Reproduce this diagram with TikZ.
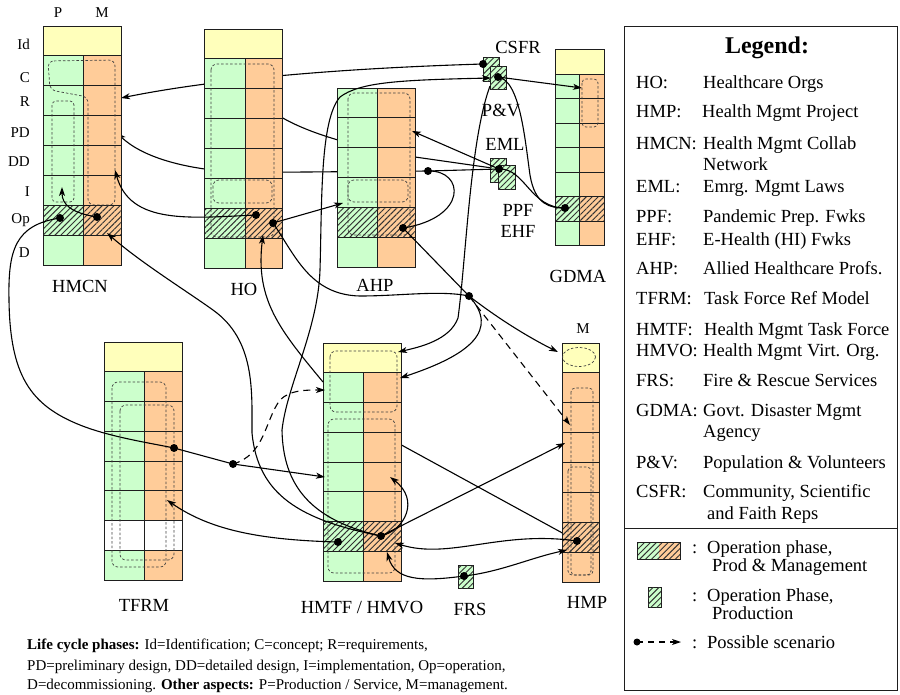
\documentclass[tikz,border=0pt]{standalone}
\usepackage{fontspec}
\setmainfont{Liberation Serif}
\usetikzlibrary{arrows.meta,patterns.meta}
\definecolor{pc}{RGB}{204,255,204}
\definecolor{mc}{RGB}{255,204,153}
\definecolor{idc}{RGB}{255,255,187}
\definecolor{hatchc}{RGB}{50,50,50}
\definecolor{edgec}{RGB}{30,30,30}
\tikzset{
  gridl/.style={draw=edgec,line width=1pt},
  hatch/.style={pattern={Lines[angle=45,distance=4.2pt,line width=0.95pt]},pattern color=hatchc},
  dbox/.style={draw=black!75,dash pattern=on 2.5pt off 2pt,line width=0.7pt,rounded corners=6pt},
  conn/.style={line width=1.1pt,draw=black},
  arr/.style={conn,-{Stealth[length=9pt,width=6pt,inset=2.5pt]}},
  darr/.style={arr,dash pattern=on 7pt off 5pt},
  sqbox/.style={draw=edgec,line width=0.8pt,fill=pc,postaction={hatch}},
  big/.style={font=\fontsize{18.5}{21}\selectfont,inner sep=0pt,anchor=base},
  small/.style={font=\fontsize{15}{17}\selectfont,inner sep=0pt,anchor=base},
  rowl/.style={font=\fontsize{15}{17}\selectfont,inner sep=0pt,anchor=base east},
  lgk/.style={font=\fontsize{18.5}{21}\selectfont,inner sep=0pt,anchor=base west},
  btxt/.style={font=\fontsize{15}{17}\selectfont,inner sep=0pt,anchor=base west},
}
% #1 xL, #2 xM, #3 xR, #4 top, #5 row height  (8 rows: Id, C, R, PD, DD, I, Op, D)
\newcommand\lcTwo[5]{%
  \fill[idc] (#1,#4) rectangle (#3,#4+#5);
  \fill[pc] (#1,#4+#5) rectangle (#2,#4+8*#5);
  \fill[mc] (#2,#4+#5) rectangle (#3,#4+8*#5);
  \fill[hatch] (#1,#4+6*#5) rectangle (#3,#4+7*#5);
  \foreach \k in {1,...,7} {\draw[gridl] (#1,#4+\k*#5) -- (#3,#4+\k*#5);}
  \draw[gridl] (#2,#4+#5) -- (#2,#4+8*#5);
  \draw[gridl] (#1,#4) rectangle (#3,#4+8*#5);
}
\begin{document}
\begin{tikzpicture}[x=1pt,y=-1pt]
\useasboundingbox (0,0) rectangle (900,694);
\fill[white] (0,0) rectangle (900,694);

% ---------- named points ----------
\coordinate (hmcnPd) at (60,218);
\coordinate (hmcnMd) at (97,217);
\coordinate (hoD1) at (256,215);
\coordinate (hoD2) at (273,223);
\coordinate (ahpD) at (403,228);
\coordinate (emlJ) at (428,171);
\coordinate (csfrD) at (483,64);
\coordinate (pvD) at (498,77);
\coordinate (emlD) at (499,169);
\coordinate (gdmaD) at (565,208);
\coordinate (junc) at (469,296);
\coordinate (tfrmD) at (174,448);
\coordinate (juncB) at (233,464);
\coordinate (hmtfP) at (338,542);
\coordinate (hmtfM) at (381,536);
\coordinate (hmpD) at (577,541);
\coordinate (frsD) at (464,576);

\coordinate (hmcnR) at (121,98);
\coordinate (hmcnPD) at (117,133);
\coordinate (hmcnI) at (115,170);
\coordinate (hmcnOp) at (107,233);
\coordinate (hmcnPI) at (62,187);
\coordinate (hoR) at (273,112);
\coordinate (hoOp) at (263,235);
\coordinate (ahpR) at (412,131);
\coordinate (ahpDD) at (343,203);
\coordinate (pvA) at (491,78);
\coordinate (pvS) at (490,86);
\coordinate (gdmaA) at (582,88);
\coordinate (hmtfId) at (398,352);
\coordinate (hmtfC) at (400,378);
\coordinate (hmtfCL) at (325,390);
\coordinate (hmtfCLe) at (323,382);
\coordinate (hmtfDDL) at (325,477);
\coordinate (hmtfDD) at (390,477);
\coordinate (hmtfOpR) at (395,543);
\coordinate (hmtfD) at (387,552);
\coordinate (hmtfRe) at (385,436);
\coordinate (tfrmA) at (167,500);
\coordinate (hmpId) at (558,352);
\coordinate (hmpR) at (570,425);
\coordinate (hmpPD) at (565,443);
\coordinate (hmpOp) at (567,550);

% ---------- connectors running behind the boxes ----------
\draw[arr] (csfrD) .. controls (350,68) and (220,78) .. (hmcnR);
\draw[arr] (emlJ) -- (245,172.5) .. controls (180,170) and (140,155) .. (hmcnPD);
\draw[arr] (emlD) -- (415,157) .. controls (350,146) and (305,132) .. (hoR);
\draw[conn] (hmpD) -- (hmtfRe);

% ---------- life-cycle boxes ----------
% HMCN
\lcTwo{43}{83}{121}{26}{29.875}
\draw[dbox] (48,61) -- (115,60) -- (115,205) -- (88,205) -- (88,97) -- (50,90) -- cycle;
\draw[dbox,rounded corners=4pt] (52,101) rectangle (74,202);
% HO
\lcTwo{204}{245}{282}{29}{29.875}
\draw[dbox] (211,64) rectangle (274,237);
\draw[dbox] (213,180) rectangle (272,203);
% AHP (6 rows)
\fill[pc] (337,88) rectangle (377,267.4);
\fill[mc] (377,88) rectangle (415,267.4);
\fill[hatch] (337,207.6) rectangle (415,237.5);
\foreach \yy in {117.9,147.8,177.7,207.6,237.5} {\draw[gridl] (337,\yy) -- (415,\yy);}
\draw[gridl] (377,88) -- (377,267.4);
\draw[gridl] (337,88) rectangle (415,267.4);
\draw[dbox] (348,93) rectangle (410,235);
\draw[dbox] (348,180) rectangle (408,202);
% GDMA
\lcTwo{555}{579}{604}{49.5}{24.5}
\draw[dbox,rounded corners=4pt] (582,79) rectangle (598,127);
% TFRM
\lcTwo{104}{144}{182}{342}{29.75}
\fill[white] (104,520.5) rectangle (182,550.25);
\draw[gridl] (104,520.5) -- (182,520.5);
\draw[gridl] (104,550.25) -- (182,550.25);
\draw[gridl] (144,520.5) -- (144,550.25);
\draw[gridl] (104,342) rectangle (182,580);
\draw[dbox] (112,382) rectangle (166,567);
\draw[dbox] (120,405) rectangle (174,560);
% HMTF / HMVO
\lcTwo{323}{363}{401}{343}{29.75}
\draw[dbox] (330,351) rectangle (397,412);
\draw[dbox] (328,419) rectangle (395,573);
% HMP (management column only)
\fill[idc] (562,343) rectangle (599,372.9);
\fill[mc] (562,372.9) rectangle (599,582);
\fill[hatch] (562,522.25) rectangle (599,552.1);
\foreach \yy in {372.9,402.75,432.6,462.5,492.4,522.25,552.1} {\draw[gridl] (562,\yy) -- (599,\yy);}
\draw[gridl] (562,343) rectangle (599,582);
\draw[black!75,dash pattern=on 2.5pt off 2pt,line width=0.7pt] (579,357) ellipse [x radius=16.5, y radius=9.5];
\draw[dbox,rounded corners=4pt] (571,388) rectangle (593,575);
\draw[dbox,rounded corners=4pt] (568,467) rectangle (591,575);

% small operation-phase squares
\path[sqbox] (483,57) rectangle (499,81);
\path[sqbox] (490,66) rectangle (506,89);
\path[sqbox] (490,158) rectangle (506,182);
\path[sqbox] (498,165) rectangle (515,189);
\path[sqbox] (458,565) rectangle (473,588);

% ---------- connectors in front ----------
\draw[arr] (hmcnMd) .. controls (72,213) and (62,205) .. (hmcnPI);
\draw[conn] (hmcnPd) .. controls (15,225) and (8,250) .. (9,300) .. controls (10,375) and (30,405) .. (80,425) .. controls (110,437) and (150,443) .. (tfrmD);
\draw[conn] (tfrmD) -- (juncB);
\draw[arr] (juncB) -- (hmtfDDL);
\draw[darr] (juncB) .. controls (265,455) and (265,420) .. (280,400) .. controls (290,390) and (305,390) .. (hmtfCL);
\draw[arr] (hmtfP) .. controls (260,540) and (210,530) .. (tfrmA);
\draw[arr] (hoD1) .. controls (190,218) and (130,225) .. (hmcnI);
\draw[arr] (hoD2) -- (ahpDD);
\draw[conn] (hoD2) .. controls (295,255) and (310,295) .. (360,296) .. controls (400,296) and (440,290) .. (junc);
\draw[conn] (ahpD) -- (junc);
\draw[conn] (emlD) -- (emlJ);
\draw[conn] (emlJ) .. controls (465,170) and (468,218) .. (ahpD);
\draw[arr] (emlD) -- (ahpR);
\draw[arr] (pvD) -- (gdmaA);
\draw[conn] (pvD) .. controls (520,80) and (525,140) .. (530,175) .. controls (535,205) and (550,208) .. (gdmaD);
\draw[conn] (emlD) .. controls (525,168) and (530,208) .. (gdmaD);
\draw[arr] (hmtfM) .. controls (310,520) and (283,485) .. (282,430) .. controls (287,385) and (318,330) .. (320,270) .. controls (322,200) and (320,120) .. (340,97) .. controls (360,82) and (400,80) .. (pvA);
\draw[arr] (hmtfM) .. controls (300,520) and (258,495) .. (252,433) .. controls (252,390) and (255,340) .. (213,310) .. controls (185,290) and (140,262) .. (hmcnOp);
\draw[arr] (hmtfCLe) .. controls (280,330) and (255,300) .. (hoOp);
\draw[arr] (hmtfM) .. controls (405,530) and (420,500) .. (hmtfDD);
\draw[arr] (hmtfM) -- (hmpPD);
\draw[arr] (hmpD) .. controls (500,530) and (450,560) .. (hmtfOpR);
\draw[arr] (frsD) .. controls (420,582) and (395,580) .. (hmtfD);
\draw[arr] (frsD) .. controls (500,572) and (530,558) .. (hmpOp);
\draw[arr] (junc) .. controls (500,320) and (530,338) .. (hmpId);
\draw[darr] (junc) -- (hmpR);
\draw[arr] (junc) .. controls (500,330) and (470,355) .. (hmtfC);
\draw[arr] (pvS) .. controls (470,140) and (466,260) .. (458,318) .. controls (450,340) and (420,347) .. (hmtfId);

% dots
\foreach \d in {hmcnPd,hmcnMd,hoD1,hoD2,ahpD,emlJ,csfrD,pvD,emlD,gdmaD,junc,tfrmD,juncB,hmtfP,hmtfM,hmpD,frsD}
  {\fill (\d) circle (4pt);}

% ---------- labels ----------
\node[small] (lP) at (58,17) {P};
\node[small] (lM) at (102,17) {M};
\node[rowl] (rId) at (30,49) {Id};
\node[rowl] (rC) at (30,82) {C};
\node[rowl] (rR) at (30,106) {R};
\node[rowl] (rPD) at (30,137) {PD};
\node[rowl] (rDD) at (30,166) {DD};
\node[rowl] (rI) at (30,196) {I};
\node[rowl] (rOp) at (30,223) {Op};
\node[rowl] (rD) at (30,257) {D};

\node[big] (tHMCN) at (80,292) {HMCN};
\node[big] (tHO) at (244,295) {HO};
\node[big] (tAHP) at (375,291) {AHP};
\node[big] (tGDMA) at (578,282) {GDMA};
\node[big] (tTFRM) at (144,611) {TFRM};
\node[big] (tHMTF) at (362,613) {HMTF / HMVO};
\node[big] (tFRS) at (470,615) {FRS};
\node[big] (tHMP) at (587,608) {HMP};
\node[small] (tHMPM) at (583,333) {M};
\node[big] (tCSFR) at (518,53) {CSFR};
\node[big] (tPV) at (501,116) {P\&V};
\node[big] (tEML) at (505,150) {EML};
\node[big] (tPPF) at (518,216) {PPF};
\node[big] (tEHF) at (518,237) {EHF};

% ---------- legend ----------
\draw[line width=1pt,draw=edgec] (624,26) rectangle (897,690);
\draw[line width=1pt,draw=edgec] (624,528) -- (897,528);
\node[font=\fontsize{24}{26}\selectfont\bfseries,inner sep=0pt,anchor=base] (lgT) at (767,53) {Legend:};
\node[lgk] (k1) at (636,88) {HO:};     \node[lgk] (v1) at (703,88) {Healthcare Orgs};
\node[lgk] (k2) at (636,117) {HMP:};   \node[lgk] (v2) at (702,117) {Health Mgmt Project};
\node[lgk] (k3) at (636,149) {HMCN:};  \node[lgk] (v3) at (703,149) {Health Mgmt Collab};
\node[lgk] (v3b) at (703,170) {Network};
\node[lgk] (k4) at (636,192) {EML:};   \node[lgk] (v4) at (703,192) {Emrg. Mgmt Laws};
\node[lgk] (k5) at (636,222) {PPF:};   \node[lgk] (v5) at (703,222) {Pandemic Prep. Fwks};
\node[lgk] (k6) at (636,245) {EHF:};   \node[lgk] (v6) at (703,245) {E-Health (HI) Fwks};
\node[lgk] (k7) at (636,274) {AHP:};   \node[lgk] (v7) at (703,274) {Allied Healthcare Profs.};
\node[lgk] (k8) at (636,304) {TFRM:};  \node[lgk] (v8) at (704,304) {Task Force Ref Model};
\node[lgk] (k9) at (636,335) {HMTF:};  \node[lgk] (v9) at (704,335) {Health Mgmt Task Force};
\node[lgk] (k10) at (636,356) {HMVO:}; \node[lgk] (v10) at (703,356) {Health Mgmt Virt. Org.};
\node[lgk] (k11) at (636,386) {FRS:};  \node[lgk] (v11) at (703,386) {Fire \& Rescue Services};
\node[lgk] (k12) at (636,416) {GDMA:}; \node[lgk] (v12) at (703,416) {Govt. Disaster Mgmt};
\node[lgk] (v12b) at (703,437) {Agency};
\node[lgk] (k13) at (636,468) {P\&V:}; \node[lgk] (v13) at (703,468) {Population \& Volunteers};
\node[lgk] (k14) at (636,497) {CSFR:}; \node[lgk] (v14) at (703,497) {Community, Scientific};
\node[lgk] (v14b) at (707,519) {and Faith Reps};

\fill[pc] (637,542) rectangle (659,559);
\fill[mc] (659,542) rectangle (680,559);
\fill[hatch] (637,542) rectangle (680,559);
\draw[draw=edgec,line width=0.8pt] (637,542) rectangle (680,559);
\node[lgk] (c1) at (692,553) {:};
\node[lgk] (i1) at (707,553) {Operation phase,};
\node[lgk] (i1b) at (712,571) {Prod \& Management};
\path[sqbox] (648,587) rectangle (661,607);
\node[lgk] (c2) at (692,601) {:};
\node[lgk] (i2) at (707,601) {Operation Phase,};
\node[lgk] (i2b) at (712,619) {Production};
\coordinate (lgA) at (637,642);
\coordinate (lgB) at (681,642);
\draw[darr,dash pattern=on 6pt off 5pt] (lgA) -- (lgB);
\fill (lgA) circle (3.5pt);
\node[lgk] (c3) at (692,648) {:};
\node[lgk] (i3) at (707,648) {Possible scenario};

% ---------- footnote ----------
\node[btxt] (f1) at (27,649) {\textbf{Life cycle phases:} Id=Identification; C=concept; R=requirements,};
\node[btxt] (f2) at (27,670) {PD=preliminary design, DD=detailed design, I=implementation, Op=operation,};
\node[btxt] (f3) at (27,689) {D=decommissioning. \textbf{Other aspects:} P=Production / Service, M=management.};
\end{tikzpicture}
\end{document}
